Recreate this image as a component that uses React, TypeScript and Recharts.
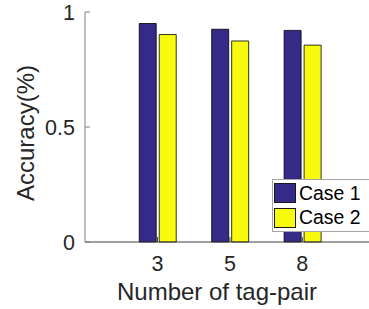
import { Bar, BarChart, Legend, XAxis, YAxis } from "recharts";

const categories = ["3", "5", "8"];
const case1 = [0.95, 0.925, 0.92];
const case2 = [0.902, 0.874, 0.856];
const yTicks = [0, 0.5, 1];
const xTicks = [1, 2, 3];

const FONT = '"Liberation Sans", Arial, Helvetica, sans-serif';
const BLUE = "#352a87";
const YELLOW = "#f9fb0e";

const data = categories.map((c, i) => ({
	pos: i + 1,
	label: c,
	case1: case1[i],
	case2: case2[i],
}));

const LegendBox = ({ payload }: any) => (
	<div
		style={{
			width: 104,
			border: "1px solid #a6a6a6",
			background: "#fff",
			padding: "1px 0 1px 1px",
			fontFamily: FONT,
			fontSize: 19.4,
			color: "#000",
			boxSizing: "border-box",
		}}
	>
		{(payload || []).map((p: any) => (
			<div
				key={p.value}
				style={{ display: "flex", alignItems: "center", height: 24.5 }}
			>
				<span
					style={{
						display: "inline-block",
						width: 20,
						height: 18,
						background: p.color,
						border: "1px solid #1a1a1a",
						marginRight: 3,
					}}
				/>
				<span>{p.value}</span>
			</div>
		))}
	</div>
);

export default function App() {
	return (
		<div
			style={{
				position: "absolute",
				left: 0,
				top: 0,
				width: 369,
				height: 309,
				overflow: "hidden",
				background: "#fff",
			}}
		>
			<BarChart
				width={369}
				height={309}
				data={data}
				margin={{ top: 12, right: 0, bottom: 0, left: 0 }}
				barGap={3}
			>
				<XAxis
					dataKey="pos"
					type="number"
					domain={[0, 3.92]}
					allowDataOverflow
					ticks={xTicks}
					interval={0}
					tickFormatter={(v: number) => categories[v - 1] ?? ""}
					height={67}
					tickSize={-5}
					tickMargin={19}
					axisLine={{ stroke: "#404040" }}
					tickLine={{ stroke: "#404040" }}
					tick={{ fontSize: 21.5, fill: "#262626", fontFamily: FONT }}
					label={{
						value: "Number of tag-pair",
						position: "center",
						dx: -10,
						dy: 16,
						fontSize: 24,
						fill: "#262626",
						fontFamily: FONT,
					}}
				/>
				<XAxis
					xAxisId="top"
					orientation="top"
					dataKey="pos"
					type="number"
					domain={[0, 3.92]}
					allowDataOverflow
					ticks={xTicks}
					interval={0}
					height={0}
					tick={false}
					tickSize={-5}
					axisLine={{ stroke: "#808080" }}
					tickLine={{ stroke: "#808080" }}
				/>
				<YAxis
					type="number"
					domain={[0, 1]}
					ticks={yTicks}
					interval={0}
					width={85}
					tickSize={-5}
					tickMargin={15}
					axisLine={{ stroke: "#808080" }}
					tickLine={{ stroke: "#808080" }}
					tick={{ fontSize: 21.5, fill: "#262626", fontFamily: FONT }}
					label={{
						value: "Accuracy(%)",
						angle: -90,
						position: "center",
						dx: -17.5,
						dy: 6,
						fontSize: 24,
						fill: "#262626",
						fontFamily: FONT,
					}}
				/>
				<Legend
					layout="vertical"
					align="center"
					verticalAlign="middle"
					content={<LegendBox />}
					wrapperStyle={{ left: 272, top: 179, width: 104 }}
				/>
				<Bar
					dataKey="case1"
					name="Case 1"
					fill={BLUE}
					stroke="#000"
					strokeWidth={0.8}
					barSize={17}
					isAnimationActive={false}
				/>
				<Bar
					dataKey="case2"
					name="Case 2"
					fill={YELLOW}
					stroke="#000"
					strokeWidth={0.8}
					barSize={17}
					isAnimationActive={false}
				/>
			</BarChart>
		</div>
	);
}
